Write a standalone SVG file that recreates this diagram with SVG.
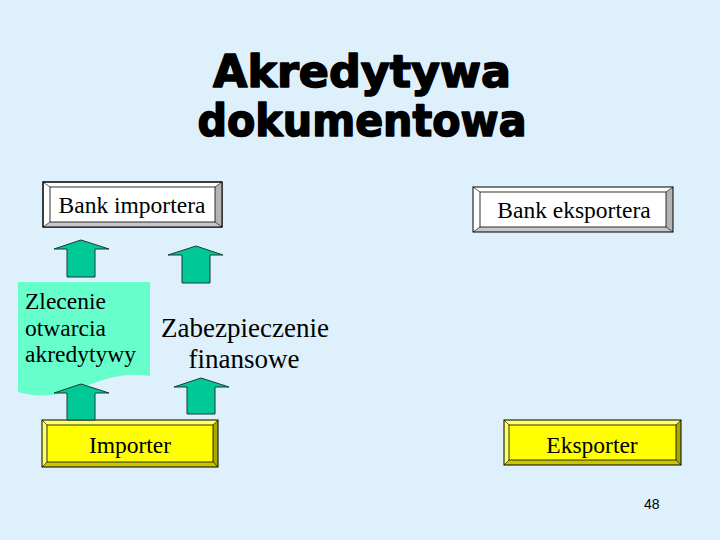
<svg xmlns="http://www.w3.org/2000/svg" width="720" height="540" viewBox="0 0 720 540">
  <style>
    .title { font-family: "DejaVu Sans", "Liberation Sans", sans-serif; font-weight: bold; font-size: 44px; fill: #000; stroke: #000; stroke-width: 1.6px; stroke-linejoin: round; text-anchor: middle; }
    .lbl { font-family: "Liberation Serif", "Times New Roman", serif; font-size: 23.5px; fill: #000; }
    .big { font-size: 27px; }
    .mid { text-anchor: middle; }
    .edge { stroke: #000; stroke-width: 1; }
    .arrow { fill: #00C896; stroke: #1a3a30; stroke-width: 1; stroke-linejoin: miter; }
    .num { font-family: "Liberation Sans", Arial, sans-serif; font-size: 14px; fill: #000; }
  </style>
  <rect x="0" y="0" width="720" height="540" fill="#DDF0FC"/>

  <g id="title">
    <text class="title" x="362" y="87" textLength="298" lengthAdjust="spacingAndGlyphs">Akredytywa</text>
    <text class="title" x="362" y="136" textLength="329" lengthAdjust="spacingAndGlyphs">dokumentowa</text>
  </g>

  <g id="bank-importera">
    <rect x="43" y="182" width="179" height="45" fill="#FFFFFF" class="edge"/>
    <polygon points="222,182 215,187 215,222 222,227" fill="#B4B4B4"/>
    <polygon points="43,227 50,222 215,222 222,227" fill="#C8C8C8"/>
    <rect x="43" y="182" width="179" height="45" fill="none" class="edge"/>
    <rect x="50" y="187" width="165" height="35" fill="#FFFFFF" stroke="#000" stroke-width="0.8"/>
    <path d="M43,182 L50,187 M222,182 L215,187 M43,227 L50,222 M222,227 L215,222" stroke="#000" stroke-width="0.6"/>
    <text class="lbl mid" x="132" y="213">Bank importera</text>
  </g>

  <g id="bank-eksportera">
    <rect x="473" y="187" width="200" height="45" fill="#FFFFFF"/>
    <polygon points="673,187 666,192 666,227 673,232" fill="#B4B4B4"/>
    <polygon points="473,232 480,227 666,227 673,232" fill="#C8C8C8"/>
    <rect x="473" y="187" width="200" height="45" fill="none" class="edge"/>
    <rect x="480" y="192" width="186" height="35" fill="#FFFFFF" stroke="#000" stroke-width="0.8"/>
    <path d="M473,187 L480,192 M673,187 L666,192 M473,232 L480,227 M673,232 L666,227" stroke="#000" stroke-width="0.6"/>
    <text class="lbl mid" x="574" y="218">Bank eksportera</text>
  </g>

  <g id="importer">
    <rect x="42" y="420" width="176" height="47" fill="#FFFF66"/>
    <polygon points="218,420 213,425 213,462 218,467" fill="#A8A800"/>
    <polygon points="42,467 47,462 213,462 218,467" fill="#C8C800"/>
    <rect x="42" y="420" width="176" height="47" fill="none" class="edge"/>
    <rect x="47" y="425" width="166" height="37" fill="#FFFF00" stroke="#000" stroke-width="0.8"/>
    <path d="M42,420 L47,425 M218,420 L213,425 M42,467 L47,462 M218,467 L213,462" stroke="#000" stroke-width="0.6"/>
    <text class="lbl mid" x="130" y="453">Importer</text>
  </g>

  <g id="eksporter">
    <rect x="504" y="420" width="177" height="45" fill="#FFFF66"/>
    <polygon points="681,420 676,425 676,460 681,465" fill="#A8A800"/>
    <polygon points="504,465 509,460 676,460 681,465" fill="#C8C800"/>
    <rect x="504" y="420" width="177" height="45" fill="none" class="edge"/>
    <rect x="509" y="425" width="167" height="35" fill="#FFFF00" stroke="#000" stroke-width="0.8"/>
    <path d="M504,420 L509,425 M681,420 L676,425 M504,465 L509,460 M681,465 L676,460" stroke="#000" stroke-width="0.6"/>
    <text class="lbl mid" x="592" y="453">Eksporter</text>
  </g>

  <g id="zlecenie">
    <path d="M18,282 H150 V376 C126,372 106,378 86,386 C62,396 38,398 18,392 Z" fill="#66FFCC"/>
    <text class="lbl" x="25" y="309">Zlecenie</text>
    <text class="lbl" x="25" y="336">otwarcia</text>
    <text class="lbl" x="25" y="362">akredytywy</text>
  </g>

  <g id="zabezpieczenie">
    <text class="lbl big mid" x="245" y="337">Zabezpieczenie</text>
    <text class="lbl big mid" x="244" y="368">finansowe</text>
  </g>

  <g id="connectors">
    <polygon class="arrow" points="81,240 109,249 95,249 95,277 67,277 67,249 54,249"/>
    <polygon class="arrow" points="196,246 223,255 210,255 210,283 182,283 182,255 168,255"/>
    <polygon class="arrow" points="81,384 109,393 95,393 95,420 67,420 67,393 54,393"/>
    <polygon class="arrow" points="201,378 229,387 215,387 215,414 187,414 187,387 174,387"/>
  </g>

  <g id="page-number">
    <text class="num" x="644" y="509">48</text>
  </g>
</svg>
